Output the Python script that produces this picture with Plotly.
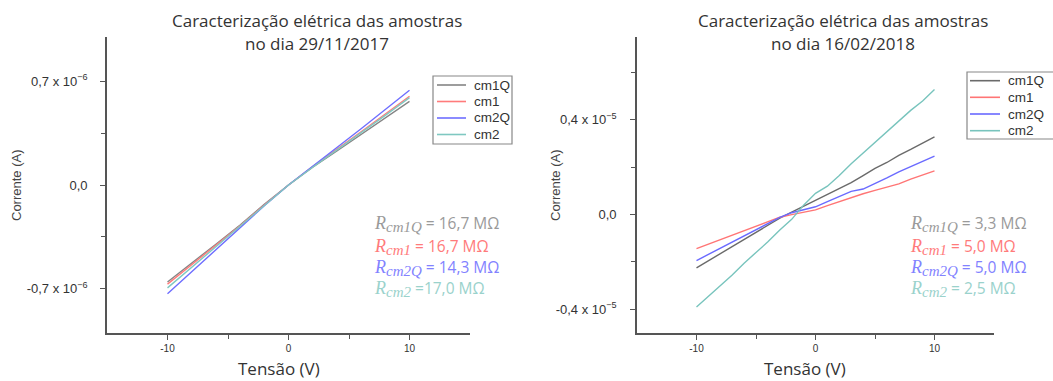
import plotly.graph_objects as go

# Tensão aplicada (V)
v_nov = [-10, -8, -6, -4, -2, 0, 2, 4, 6, 8, 10]
v_fev = [-10, -9, -8, -7, -6, -5, -4, -3, -2, -1, 0, 1, 2, 3, 4, 5, 6, 7, 8, 9, 10]

# Corrente medida em 29/11/2017 (unidades de 1e-6 A)
i_nov_cm1q = [-0.655, -0.530, -0.400, -0.270, -0.130, 0.0, 0.120, 0.230, 0.340, 0.450, 0.565]
i_nov_cm1 = [-0.670, -0.540, -0.410, -0.275, -0.135, 0.0, 0.125, 0.240, 0.360, 0.480, 0.600]
i_nov_cm2q = [-0.735, -0.585, -0.440, -0.290, -0.140, 0.0, 0.125, 0.250, 0.380, 0.510, 0.640]
i_nov_cm2 = [-0.695, -0.555, -0.420, -0.280, -0.135, 0.0, 0.120, 0.235, 0.350, 0.470, 0.590]

# Corrente medida em 16/02/2018 (unidades de 1e-5 A)
i_fev_cm1q = [-0.225, -0.195, -0.165, -0.135, -0.105, -0.075, -0.045, -0.015, 0.010, 0.035, 0.060,
              0.085, 0.110, 0.135, 0.165, 0.195, 0.220, 0.250, 0.275, 0.300, 0.328]
i_fev_cm1 = [-0.144, -0.125, -0.106, -0.087, -0.068, -0.049, -0.030, -0.011, 0.000, 0.010, 0.020,
             0.038, 0.055, 0.072, 0.088, 0.102, 0.115, 0.130, 0.150, 0.168, 0.185]
i_fev_cm2q = [-0.194, -0.168, -0.142, -0.116, -0.090, -0.064, -0.038, -0.012, 0.008, 0.020, 0.033,
              0.055, 0.077, 0.098, 0.108, 0.130, 0.155, 0.180, 0.203, 0.225, 0.247]
i_fev_cm2 = [-0.390, -0.345, -0.300, -0.255, -0.205, -0.160, -0.115, -0.065, -0.020, 0.040, 0.090,
             0.120, 0.165, 0.215, 0.260, 0.305, 0.350, 0.395, 0.440, 0.480, 0.528]

series_names = ["cm1Q", "cm1", "cm2Q", "cm2"]
subscripts = ["cm1Q", "cm1", "cm2Q", "cm2"]
line_colors = ["#858585", "#ff7b7b", "#6e6eff", "#7fc8c1"]
line_colors_fev = ["#6a6a6a", "#ff7575", "#6a6aff", "#78c4bd"]
label_colors = ["#9a9a9a", "#ff7b7b", "#8282ff", "#9ad2cc"]

res_nov = ["= 16,7 MΩ", "= 16,7 MΩ", "= 14,3 MΩ", "=17,0 MΩ"]
res_fev = ["= 3,3 MΩ", "= 5,0 MΩ", "= 5,0 MΩ", "= 2,5 MΩ"]

titles = ["Caracterização elétrica das amostras", "no dia 29/11/2017", "no dia 16/02/2018"]

W, H = 1053, 381
nov_data = [i_nov_cm1q, i_nov_cm1, i_nov_cm2q, i_nov_cm2]
fev_data = [i_fev_cm1q, i_fev_cm1, i_fev_cm2q, i_fev_cm2]

fig = go.Figure()
for name, col, ys in zip(series_names, line_colors, nov_data):
    fig.add_trace(go.Scatter(x=v_nov, y=[y * 1e-6 for y in ys], mode="lines", name=name,
                             line=dict(color=col, width=1.4), xaxis="x", yaxis="y",
                             showlegend=False))
for name, col, ys in zip(series_names, line_colors_fev, fev_data):
    fig.add_trace(go.Scatter(x=v_fev, y=[y * 1e-5 for y in ys], mode="lines", name=name,
                             line=dict(color=col, width=1.4), xaxis="x2", yaxis="y2",
                             showlegend=False))

def px(x):
    return x / W

def py(y):
    return 1 - y / H

axis_common = dict(showline=True, linecolor="#555555", linewidth=1.6, showgrid=False,
                   zeroline=False, ticks="outside", ticklen=5, tickwidth=1.3,
                   tickcolor="#555555", tickfont=dict(family="Liberation Sans", size=10, color="#333333"))
ytickfont = dict(family="Liberation Sans", size=13, color="#333333")

xdom1 = [px(107), px(470)]
xdom2 = [px(637), px(994)]
ydom = [py(333), py(37)]

fig.update_layout(
    width=W, height=H,
    margin=dict(l=0, r=0, t=0, b=0, autoexpand=False),
    paper_bgcolor="white", plot_bgcolor="white",
    xaxis=dict(domain=xdom1, range=[-15, 15], tickvals=[-10, 0, 10], ticktext=["-10", "0", "10"],
               anchor="y", minor=dict(ticks="outside", tickvals=[-5, 5], ticklen=4, tickcolor="#555555"),
               **axis_common),
    yaxis=dict(domain=ydom, range=[-1e-6, 1e-6], tickvals=[-0.7e-6, 0, 0.7e-6],
               ticktext=["-0,7 x 10<sup>−6</sup>", "0,0", "0,7 x 10<sup>−6</sup>"],
               anchor="x", ticklabelstandoff=10,
               minor=dict(ticks="outside", tickvals=[-0.35e-6, 0.35e-6], ticklen=4, tickcolor="#555555"),
               **{**axis_common, "tickfont": ytickfont}),
    xaxis2=dict(domain=xdom2, range=[-15, 15], tickvals=[-10, 0, 10], ticktext=["-10", "0", "10"],
                anchor="y2", minor=dict(ticks="outside", tickvals=[-5, 5], ticklen=4, tickcolor="#555555"),
                **axis_common),
    yaxis2=dict(domain=ydom, range=[-0.5e-5, 0.75e-5], tickvals=[-0.4e-5, 0, 0.4e-5],
                ticktext=["-0,4 x 10<sup>−5</sup>", "0,0", "0,4 x 10<sup>−5</sup>"],
                anchor="x2", ticklabelstandoff=11,
                minor=dict(ticks="outside", tickvals=[-0.2e-5, 0.2e-5, 0.6e-5], ticklen=4, tickcolor="#555555"),
                **{**axis_common, "tickfont": ytickfont}),
)

annotations = []
shapes = []

title_font = dict(family="Open Sans", size=17, color="#333333")
for cx, sub in [(317, titles[1]), (843, titles[2])]:
    annotations.append(dict(x=px(cx), y=py(20), xref="paper", yref="paper", text=titles[0],
                            showarrow=False, xanchor="center", yanchor="middle", font=title_font))
    annotations.append(dict(x=px(cx), y=py(44), xref="paper", yref="paper", text=sub,
                            showarrow=False, xanchor="center", yanchor="middle", font=title_font))

# Axis titles
for cx in (279, 805):
    annotations.append(dict(x=px(cx), y=py(368), xref="paper", yref="paper", text="Tensão (V)",
                            showarrow=False, xanchor="center", yanchor="middle",
                            font=dict(family="Open Sans", size=17, color="#333333")))
for cx in (17, 556):
    annotations.append(dict(x=px(cx), y=py(185), xref="paper", yref="paper", text="Corrente (A)",
                            showarrow=False, xanchor="center", yanchor="middle", textangle=-90,
                            font=dict(family="Liberation Sans", size=13, color="#444444")))

# Resistance labels: italic serif symbol with subscript, then the value
serif = "font-family:Liberation Serif;font-style:italic"
for x0, ys, res in [(372, [223, 246, 267, 288], res_nov), (908, [223, 246, 267, 288], res_fev)]:
    for k in range(4):
        txt = ('<span style="%s;font-size:18px">R</span>'
               '<sub><span style="%s;font-size:15px">%s</span></sub> %s'
               % (serif, serif, subscripts[k], res[k]))
        annotations.append(dict(x=px(x0), y=py(ys[k]), xref="paper", yref="paper", text=txt,
                                showarrow=False, xanchor="left", yanchor="middle",
                                font=dict(family="Open Sans", size=15.5, color=label_colors[k])))

# Legend boxes
for (bx0, bx1, by0, by1, rows, lx0, lx1, tx, cols) in [
        (433, 512, 76, 144, [85, 101.5, 118, 134.5], 437, 466, 472, line_colors),
        (967, 1062, 72, 139, [80.7, 97.3, 114, 130.7], 970, 1000, 1006, line_colors_fev)]:
    shapes.append(dict(type="rect", xref="paper", yref="paper", x0=px(bx0), x1=px(bx1),
                       y0=py(by1), y1=py(by0), line=dict(color="#888888", width=1.2),
                       fillcolor="white", layer="below"))
    for k in range(4):
        shapes.append(dict(type="line", xref="paper", yref="paper", x0=px(lx0), x1=px(lx1),
                           y0=py(rows[k]), y1=py(rows[k]), line=dict(color=cols[k], width=1.6)))
        annotations.append(dict(x=px(tx), y=py(rows[k]), xref="paper", yref="paper",
                                text=series_names[k], showarrow=False, xanchor="left",
                                yanchor="middle",
                                font=dict(family="Liberation Sans", size=13.5, color="#333333")))

fig.update_layout(annotations=annotations, shapes=shapes)
fig.write_html("out.html")
